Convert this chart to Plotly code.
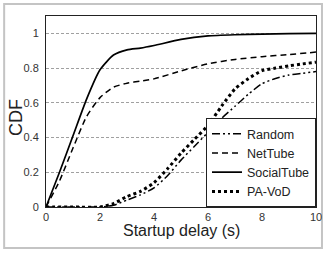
import plotly.graph_objects as go

x_social = [0, 0.5, 1, 1.5, 2, 2.5, 3, 3.5, 4, 5, 6, 7, 8, 9, 10]
y_social = [0, 0.2, 0.41, 0.62, 0.79, 0.875, 0.905, 0.915, 0.93, 0.965, 0.985, 0.992, 0.996, 0.998, 1.0]

x_net = [0, 0.5, 1, 1.5, 2, 2.5, 3, 3.5, 4, 5, 6, 7, 8, 9, 10]
y_net = [0, 0.15, 0.34, 0.52, 0.63, 0.69, 0.713, 0.725, 0.738, 0.784, 0.825, 0.85, 0.866, 0.878, 0.892]

x_rand = [0, 1, 2, 2.5, 3, 3.5, 4, 4.5, 5, 5.5, 6, 6.5, 7, 7.5, 8, 8.5, 9, 9.5, 10]
y_rand = [0, 0, 0, 0.01, 0.04, 0.07, 0.11, 0.18, 0.27, 0.35, 0.43, 0.51, 0.58, 0.65, 0.71, 0.74, 0.76, 0.77, 0.78]

x_pa = [0, 1, 2, 2.5, 3, 3.5, 4, 4.5, 5, 5.5, 6, 6.5, 7, 7.5, 8, 8.5, 9, 9.5, 10]
y_pa = [0, 0, 0, 0.02, 0.06, 0.09, 0.14, 0.22, 0.31, 0.39, 0.47, 0.58, 0.68, 0.74, 0.785, 0.80, 0.813, 0.824, 0.834]

x_ticks = [0, 2, 4, 6, 8, 10]
y_ticks = [0, 0.2, 0.4, 0.6, 0.8, 1]
y_ticktext = ["0", "0.2", "0.4", "0.6", "0.8", "1"]

font = "Liberation Sans, Arial, sans-serif"

fig = go.Figure()
fig.add_trace(go.Scatter(x=x_rand, y=y_rand, name="Random", mode="lines",
                         line=dict(color="black", width=1.5, dash="8px,3px,2px,3px,2px,3px",
                                   shape="spline", smoothing=0.6)))
fig.add_trace(go.Scatter(x=x_net, y=y_net, name="NetTube", mode="lines",
                         line=dict(color="black", width=1.5, dash="6px,4px", shape="spline", smoothing=0.6)))
fig.add_trace(go.Scatter(x=x_social, y=y_social, name="SocialTube", mode="lines",
                         line=dict(color="black", width=1.7, shape="spline", smoothing=0.6)))
fig.add_trace(go.Scatter(x=x_pa, y=y_pa, name="PA-VoD", mode="lines",
                         line=dict(color="black", width=3, dash="dot", shape="spline", smoothing=0.6)))

fig.update_layout(
    width=325, height=253,
    margin=dict(l=46, r=9, t=16, b=46),
    paper_bgcolor="white", plot_bgcolor="white",
    font=dict(family=font, color="#222"),
    showlegend=True,
    legend=dict(x=1, y=0, xanchor="right", yanchor="bottom",
                bgcolor="white", bordercolor="#222", borderwidth=1,
                font=dict(size=12.5, family=font, color="#222"),
                tracegroupgap=0, itemwidth=30),
    xaxis=dict(range=[0, 10], tickvals=x_ticks, showgrid=False, automargin=False,
               showline=True, linecolor="#222", linewidth=1, mirror=True,
               ticks="", zeroline=False,
               tickfont=dict(size=11, color="#333")),
    yaxis=dict(range=[0, 1.1], tickvals=y_ticks, ticktext=y_ticktext, automargin=False,
               showgrid=True, gridcolor="#a0a0a0", griddash="3px,2px", gridwidth=1,
               showline=True, linecolor="#222", linewidth=1, mirror=True,
               ticks="outside", ticklen=4, tickcolor="rgba(0,0,0,0)", zeroline=False,
               tickfont=dict(size=11, color="#333")),
    annotations=[
        dict(text="CDF", xref="paper", yref="paper", x=(16 - 46) / 271, y=(207 - 118) / 191,
             textangle=-90, showarrow=False, font=dict(size=18, color="#222"),
             xanchor="center", yanchor="middle"),
        dict(text="Startup delay (s)", xref="paper", yref="paper", x=(182.5 - 46) / 271,
             y=(207 - 230) / 191, showarrow=False, font=dict(size=16, color="#222"),
             xanchor="center", yanchor="middle"),
    ],
    shapes=[dict(type="rect", xref="paper", yref="paper",
                 x0=-42 / 271, x1=(323 - 46) / 271, y0=(207 - 248) / 191, y1=(207 - 4) / 191,
                 line=dict(color="#c4c4c4", width=2), layer="below")],
)

fig.write_html("out.html", config={"displayModeBar": False},
               post_script="document.body.style.margin='0';")
